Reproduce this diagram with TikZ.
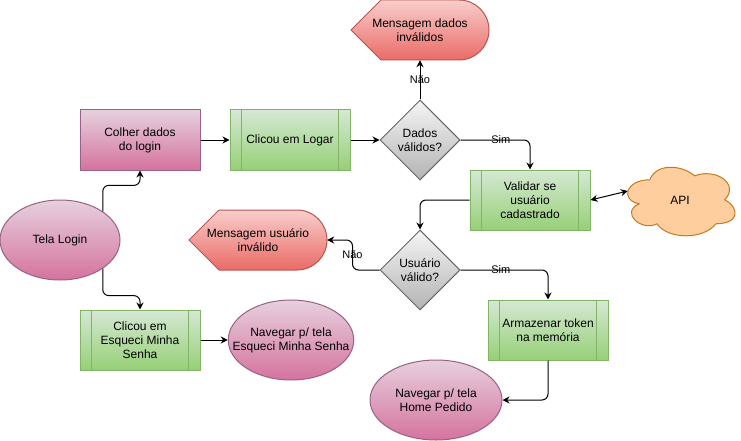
\documentclass[tikz,border=0pt]{standalone}
\usepackage{fontspec}
\setmainfont{Liberation Sans}
\usepackage{xcolor}
\usepackage{tikz}
\usetikzlibrary{shapes.geometric}
\usetikzlibrary{arrows.meta}
\usetikzlibrary{backgrounds}

\definecolor{pinkTop}{HTML}{E6D0DE}
\definecolor{pinkBot}{HTML}{D5739D}
\definecolor{pinkLine}{HTML}{996185}
\definecolor{greenTop}{HTML}{D5E8D4}
\definecolor{greenBot}{HTML}{97D077}
\definecolor{greenLine}{HTML}{82B366}
\definecolor{greyTop}{HTML}{F5F5F5}
\definecolor{greyBot}{HTML}{B3B3B3}
\definecolor{greyLine}{HTML}{666666}
\definecolor{redTop}{HTML}{F8CECC}
\definecolor{redBot}{HTML}{EA6B66}
\definecolor{redLine}{HTML}{B85450}
\definecolor{apiFill}{HTML}{FFCE9F}
\definecolor{apiLine}{HTML}{C47A1E}

\tikzset{
    txt/.style={font=\fontsize{12}{14}\selectfont, align=center, text=black},
    pinkbox/.style={txt, rectangle, draw=pinkLine, line width=1pt, top color=pinkTop, bottom color=pinkBot, minimum width=120pt, minimum height=60pt, inner sep=0pt},
    procbox/.style={txt, rectangle, draw=greenLine, line width=1pt, top color=greenTop, bottom color=greenBot, minimum width=120pt, minimum height=60pt, inner sep=0pt},
    decision/.style={txt, diamond, aspect=1, draw=greyLine, line width=1pt, top color=greyTop, bottom color=greyBot, minimum width=80pt, minimum height=80pt, inner sep=0pt},
    screen/.style={txt, ellipse, draw=pinkLine, line width=1pt, top color=pinkTop, bottom color=pinkBot, minimum height=80pt, inner sep=0pt},
    msgbox/.style={txt, rectangle, minimum width=138pt, minimum height=60pt, inner sep=0pt},
    msgshape/.style={draw=redLine, line width=1pt, top color=redTop, bottom color=redBot},
    cloudshape/.style={draw=apiLine, line width=1pt, fill=apiFill},
    flow/.style={draw=black, line width=1pt, rounded corners=6pt, -{Stealth[length=7pt,width=7pt]}},
    both/.style={draw=black, line width=1pt, {Stealth[length=7pt,width=7pt]}-{Stealth[length=7pt,width=7pt]}},
    lbl/.style={font=\fontsize{11}{13}\selectfont, text=black, inner sep=0pt}
}

\newcommand{\procbars}[1]{%
    \draw[greenLine, line width=1pt] ([xshift=12pt]#1.north west) -- ([xshift=12pt]#1.south west);
    \draw[greenLine, line width=1pt] ([xshift=-12pt]#1.north east) -- ([xshift=-12pt]#1.south east);}
\newcommand{\dispshape}[1]{%
    \draw[msgshape, shift={(#1.center)}] (-69,0) -- (-39,-30) -- (39,-30)
        arc[start angle=-90, end angle=90, x radius=30, y radius=30] -- (-39,30) -- cycle;}

\begin{document}
\begin{tikzpicture}[x=1pt, y=-1pt]
    \useasboundingbox (0,0) rectangle (741,441);

    %%% NODES %%%
    \node[screen, minimum width=120pt] (tela) at (60,240) {Tela Login};
    \node[pinkbox] (colher) at (140,140) {Colher dados\\do login};
    \node[procbox] (logar) at (290,140) {Clicou em Logar};
    \node[decision] (dados) at (420,140) {Dados\\válidos?};
    \node[msgbox] (msgA) at (420,30) {Mensagem dados\\inválidos};
    \node[procbox] (validar) at (530,200) {Validar se\\usuário\\cadastrado};
    \node[txt, minimum width=120pt, minimum height=80pt, inner sep=0pt] (api) at (680,200) {API};
    \node[decision] (usuario) at (420,270) {Usuário\\válido?};
    \node[msgbox] (msgB) at (258,240) {Mensagem usuário\\inválido};
    \node[procbox] (arm) at (548,330) {Armazenar token\\na memória};
    \node[screen, minimum width=132pt] (home) at (436,400) {Navegar p/ tela\\Home Pedido};
    \node[procbox] (esq) at (140,340) {Clicou em\\Esqueci Minha\\Senha};
    \node[screen, minimum width=122pt, inner xsep=-14pt] (navesq) at (291,340) {Navegar p/ tela\\Esqueci Minha Senha};

    \procbars{logar}
    \procbars{validar}
    \procbars{arm}
    \procbars{esq}

    %%% SHAPES BEHIND TEXT %%%
    \begin{scope}[on background layer]
        \fill[white] (0,0) rectangle (741,441);
        \dispshape{msgA}
        \dispshape{msgB}
        \draw[cloudshape, shift={(api.north west)}, x=120pt, y=-80pt]
            (0.25,0.25) .. controls (0.05,0.25) and (0,0.5) .. (0.16,0.55)
            .. controls (0,0.66) and (0.18,0.9) .. (0.31,0.8)
            .. controls (0.4,1) and (0.7,1) .. (0.8,0.8)
            .. controls (1,0.8) and (1,0.6) .. (0.875,0.5)
            .. controls (1,0.3) and (0.8,0.1) .. (0.625,0.2)
            .. controls (0.5,0.05) and (0.3,0.05) .. (0.25,0.25) -- cycle;
    \end{scope}
    \coordinate (apiin) at ([xshift=8pt, yshift=9pt]api.west);

    %%% CONNECTORS %%%
    \draw[flow] (tela.north east) -- ++(0,-26) -| (colher.south);
    \draw[flow] (tela.south east) -- ++(0,27) -| (esq.north);
    \draw[flow] (colher.east) -- (logar.west);
    \draw[flow] (logar.east) -- (dados.west);
    \draw[flow] (dados.north) -- node[lbl]{Não} (msgA.south);
    \draw[flow] (dados.east) -| node[lbl, pos=0.29]{Sim} (validar.north);
    \draw[both] (validar.east) -- (apiin);
    \draw[flow] (validar.west) -| (usuario.north);
    \draw[flow] (usuario.west) -- ++(-27,0) |- node[lbl, pos=0.25]{Não} (msgB.east);
    \draw[flow] (usuario.east) -| node[lbl, pos=0.23]{Sim} (arm.north);
    \draw[flow] (arm.south) |- (home.east);
    \draw[flow] (esq.east) -- (navesq.west);
\end{tikzpicture}
\end{document}
